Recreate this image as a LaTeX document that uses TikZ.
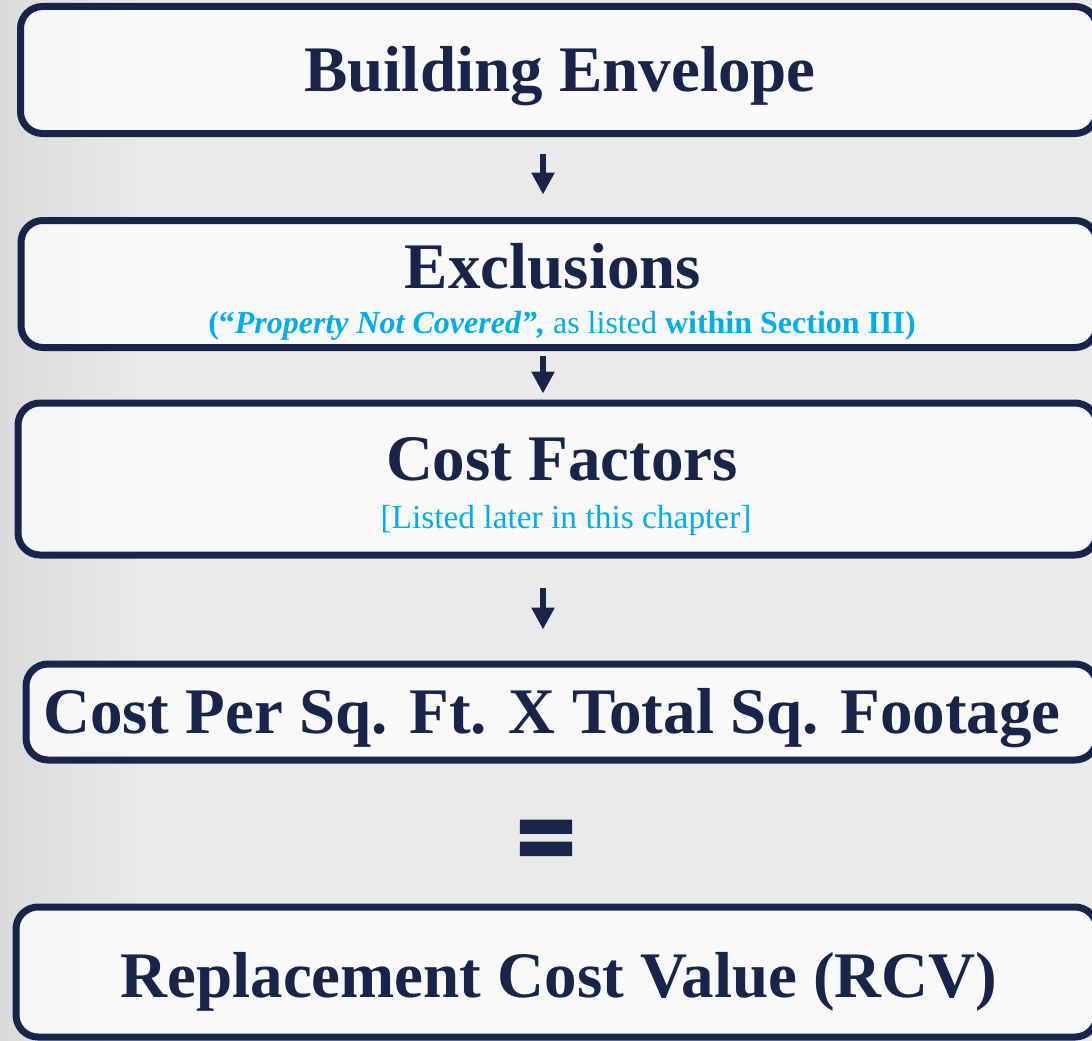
\documentclass[tikz,border=0pt]{standalone}
\usepackage{fontspec}
\usepackage{graphicx}
\setmainfont{Liberation Serif}
\newfontfamily\symfont[BoldFeatures={FakeBold=2.8}]{DejaVu Sans}
\usetikzlibrary{calc}
\usetikzlibrary{arrows.meta}

\definecolor{navy}{HTML}{18244A}
\definecolor{sky}{HTML}{00AEEF}
\definecolor{haze}{HTML}{EAEAEA}

\tikzset{
  stage/.style={draw=navy,line width=7pt,rounded corners=22pt,fill=white,fill opacity=0.75,inner sep=0pt},
  title/.style={anchor=base,text=navy,inner sep=0pt,font=\fontsize{65}{70}\selectfont\bfseries},
  note/.style={anchor=base,text=sky,inner sep=0pt,font=\fontsize{32}{36}\selectfont},
  flow/.style={draw=navy,line width=6.5pt,-{Triangle[length=22pt,width=22pt]}}
}

\begin{document}
\begin{tikzpicture}[x=1pt,y=-1pt]
  % Constants
  \pgfmathsetmacro\axis{543}
  % Boundary
  \path[use as bounding box] (0,0) rectangle (1092,1041);
  \fill[haze] (0,0) rectangle (1092,1041);
  \shade[left color=black!18,right color=haze,opacity=0.6] (0,0) rectangle (140,1041);
  % Boxes
  \node[stage,minimum width=1076.5pt,minimum height=127pt] (envelope) at (558.75,70) {};
  \node[stage,minimum width=1076pt,minimum height=127pt] (exclusions) at (559,284) {};
  \node[stage,minimum width=1079pt,minimum height=152pt] (factors) at (557.5,479) {};
  \node[stage,minimum width=1071pt,minimum height=96pt] (footage) at (561.5,712) {};
  \node[stage,minimum width=1081pt,minimum height=130pt] (rcv) at (556.5,972) {};
  % Texts
  \node[title] (envelopetext) at (560,92) {Building Envelope};
  \node[title] (exclusionstext) at (553,288) {Exclusions};
  \node[note] (exclusionsnote) at (562,333)
    {\textbf{(“\textit{Property Not Covered”,}} as listed \textbf{within Section III)}};
  \node[title] (factorstext) at (562,480) {Cost Factors};
  \node[note,font=\fontsize{33.4}{37}\selectfont] (factorsnote) at (566,528) {[Listed later in this chapter]};
  \node[title] (footagetext) at (552,733) {Cost Per Sq. Ft. X Total Sq. Footage};
  \node[title] (rcvtext) at (559,997) {Replacement Cost Value (RCV)};
  \node[text=navy,inner sep=0pt,font=\symfont\bfseries\fontsize{100}{100}\selectfont] (equals) at (546,845) {\scalebox{0.8}[1]{=}};
  % Arrows
  \coordinate (axis) at (\axis,0);
  \draw[flow,shorten <=16.5pt,shorten >=22.5pt] (envelope.south -| axis) -- (exclusions.north -| axis);
  \draw[flow,shorten <=4.5pt,shorten >=6pt] (exclusions.south -| axis) -- (factors.north -| axis);
  \draw[flow,shorten <=29pt,shorten >=31pt] (factors.south -| axis) -- (footage.north -| axis);
\end{tikzpicture}
\end{document}
